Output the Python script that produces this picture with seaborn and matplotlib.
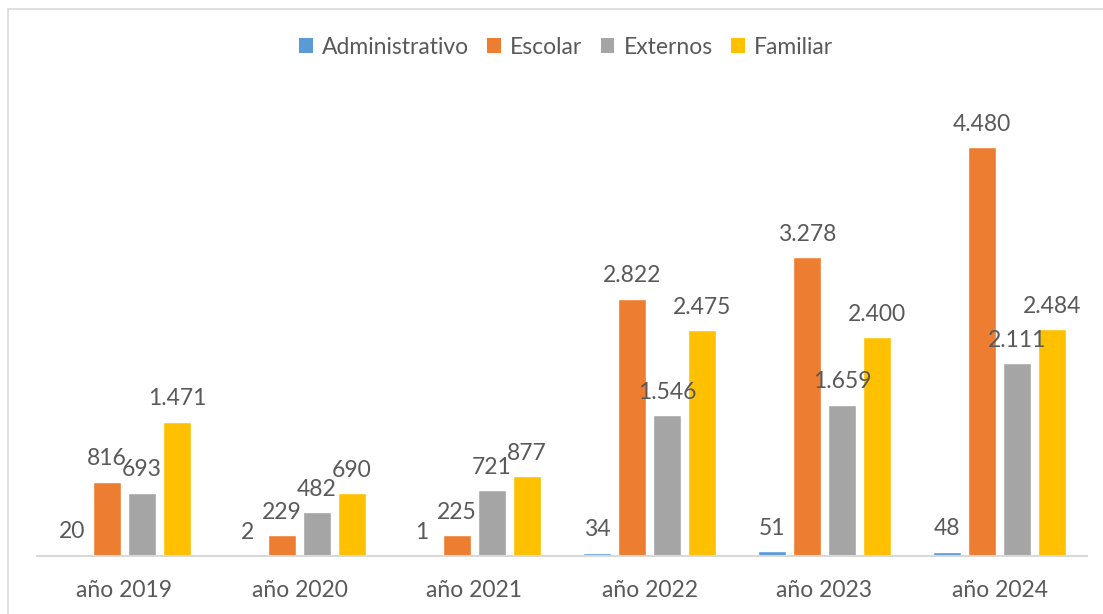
import pandas as pd
import matplotlib.pyplot as plt
import seaborn as sns
from matplotlib.patches import Rectangle, Patch

# data
years = ['año 2019', 'año 2020', 'año 2021', 'año 2022', 'año 2023', 'año 2024']
series = ['Administrativo', 'Escolar', 'Externos', 'Familiar']
administrativo = [20, 2, 1, 34, 51, 48]
escolar = [816, 229, 225, 2822, 3278, 4480]
externos = [693, 482, 721, 1546, 1659, 2111]
familiar = [1471, 690, 877, 2475, 2400, 2484]
colors = ['#5B9BD5', '#ED7D31', '#A5A5A5', '#FFC000']

df = pd.DataFrame({'year': years * 4,
                   'serie': [s for s in series for _ in years],
                   'value': administrativo + escolar + externos + familiar})

sns.set_style('white')
plt.rcParams['font.family'] = ['Lato', 'DejaVu Sans']
text_color = '#595959'
fs = 16.5

fig = plt.figure(figsize=(11.03, 6.14), dpi=100)
ax = fig.add_axes([37 / 1103, 1 - 556 / 614, 1050 / 1103, 456 / 614])

sns.barplot(data=df, x='year', y='value', hue='serie', hue_order=series,
            palette=colors, errorbar=None, width=0.8, gap=0.2,
            saturation=1, legend=False, ax=ax)

def fmt(v):
    return f'{int(v):,}'.replace(',', '.')

for cont in ax.containers:
    ax.bar_label(cont, labels=[fmt(b.get_height()) for b in cont],
                 padding=9, fontsize=fs, color=text_color)

ax.set_ylim(0, 5000)
ax.set_xlim(-0.5, 5.5)
ax.set_yticks([])
ax.set_xlabel('')
ax.set_ylabel('')
for side in ['left', 'right', 'top']:
    ax.spines[side].set_visible(False)
ax.spines['bottom'].set_color('#D9D9D9')
ax.spines['bottom'].set_linewidth(1.5)
ax.tick_params(axis='x', length=0, pad=17, labelsize=fs, labelcolor=text_color)

handles = [Patch(facecolor=c, edgecolor='none') for c in colors]
fig.legend(handles, series, loc='center', bbox_to_anchor=(566 / 1103, 1 - 47 / 614),
           ncol=4, frameon=False, fontsize=fs, labelcolor=text_color,
           handlelength=0.6, handleheight=0.6, handletextpad=0.4, columnspacing=0.8)

# chart frame
fig.patches.append(Rectangle((8 / 1103, -0.1), 1.2, 1 - 9 / 614 + 0.1,
                             transform=fig.transFigure, fill=False,
                             edgecolor='#D9D9D9', linewidth=1.2))

fig.savefig('out.png', dpi=100)
